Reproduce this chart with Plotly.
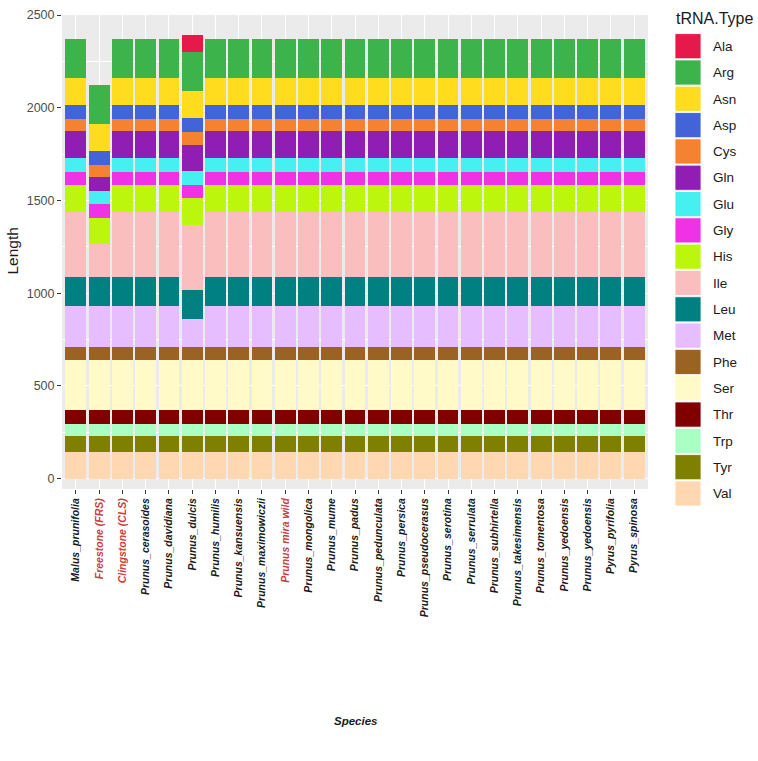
import plotly.graph_objects as go

# ---------------- data ----------------
species = [
    "Malus_prunifolia", "Freestone (FRS)", "Clingstone (CLS)", "Prunus_cerasoides",
    "Prunus_davidiana", "Prunus_dulcis", "Prunus_humilis", "Prunus_kansuensis",
    "Prunus_maximowiczii", "Prunus mira wild", "Prunus_mongolica", "Prunus_mume",
    "Prunus_padus", "Prunus_pedunculata", "Prunus_persica", "Prunus_pseudocerasus",
    "Prunus_serotina", "Prunus_serrulata", "Prunus_subhirtella", "Prunus_takesimensis",
    "Prunus_tomentosa", "Prunus_yedoensis", "Prunus_yedoensis", "Pyrus_pyrifolia",
    "Pyrus_spinosa",
]
highlighted = ["Freestone (FRS)", "Clingstone (CLS)", "Prunus mira wild"]

trna_types = ["Ala", "Arg", "Asn", "Asp", "Cys", "Gln", "Glu", "Gly", "His",
              "Ile", "Leu", "Met", "Phe", "Ser", "Thr", "Trp", "Tyr", "Val"]

ala = [0, 0, 0, 0, 0, 89, 0, 0, 0, 0, 0, 0, 0, 0, 0, 0, 0, 0, 0, 0, 0, 0, 0, 0, 0]
arg = [213, 213, 213, 213, 213, 213, 213, 213, 213, 213, 213, 213, 213, 213, 213, 213, 213, 213, 213, 213, 213, 213, 213, 213, 213]
asn = [145, 145, 145, 145, 145, 145, 145, 145, 145, 145, 145, 145, 145, 145, 145, 145, 145, 145, 145, 145, 145, 145, 145, 145, 145]
asp = [76, 76, 76, 76, 76, 76, 76, 76, 76, 76, 76, 76, 76, 76, 76, 76, 76, 76, 76, 76, 76, 76, 76, 76, 76]
cys = [67, 67, 67, 67, 67, 67, 67, 67, 67, 67, 67, 67, 67, 67, 67, 67, 67, 67, 67, 67, 67, 67, 67, 67, 67]
gln = [142, 71, 142, 142, 142, 142, 142, 142, 142, 142, 142, 142, 142, 142, 142, 142, 142, 142, 142, 142, 142, 142, 142, 142, 142]
glu = [74, 74, 74, 74, 74, 74, 74, 74, 74, 74, 74, 74, 74, 74, 74, 74, 74, 74, 74, 74, 74, 74, 74, 74, 74]
gly = [71, 71, 71, 71, 71, 71, 71, 71, 71, 71, 71, 71, 71, 71, 71, 71, 71, 71, 71, 71, 71, 71, 71, 71, 71]
his = [145, 145, 145, 145, 145, 145, 145, 145, 145, 145, 145, 145, 145, 145, 145, 145, 145, 145, 145, 145, 145, 145, 145, 145, 145]
ile = [351, 174, 351, 351, 351, 351, 351, 351, 351, 351, 351, 351, 351, 351, 351, 351, 351, 351, 351, 351, 351, 351, 351, 351, 351]
leu = [159, 159, 159, 159, 159, 159, 159, 159, 159, 159, 159, 159, 159, 159, 159, 159, 159, 159, 159, 159, 159, 159, 159, 159, 159]
met = [221, 221, 221, 221, 221, 150, 221, 221, 221, 221, 221, 221, 221, 221, 221, 221, 221, 221, 221, 221, 221, 221, 221, 221, 221]
phe = [71, 71, 71, 71, 71, 71, 71, 71, 71, 71, 71, 71, 71, 71, 71, 71, 71, 71, 71, 71, 71, 71, 71, 71, 71]
ser = [266, 266, 266, 266, 266, 266, 266, 266, 266, 266, 266, 266, 266, 266, 266, 266, 266, 266, 266, 266, 266, 266, 266, 266, 266]
thr = [76, 76, 76, 76, 76, 76, 76, 76, 76, 76, 76, 76, 76, 76, 76, 76, 76, 76, 76, 76, 76, 76, 76, 76, 76]
trp = [65, 65, 65, 65, 65, 65, 65, 65, 65, 65, 65, 65, 65, 65, 65, 65, 65, 65, 65, 65, 65, 65, 65, 65, 65]
tyr = [89, 89, 89, 89, 89, 89, 89, 89, 89, 89, 89, 89, 89, 89, 89, 89, 89, 89, 89, 89, 89, 89, 89, 89, 89]
val = [142, 142, 142, 142, 142, 142, 142, 142, 142, 142, 142, 142, 142, 142, 142, 142, 142, 142, 142, 142, 142, 142, 142, 142, 142]

y_ticks = [0, 500, 1000, 1500, 2000, 2500]

# ---------------- styling ----------------
colors = {
    "Ala": "#e6194b", "Arg": "#3cb44b", "Asn": "#ffdc1e", "Asp": "#4363d8",
    "Cys": "#f58231", "Gln": "#911eb4", "Glu": "#46f0f0", "Gly": "#f032e6",
    "His": "#bcf60c", "Ile": "#fabebe", "Leu": "#008080", "Met": "#e6beff",
    "Phe": "#9a6324", "Ser": "#fffac8", "Thr": "#800000", "Trp": "#aaffc3",
    "Tyr": "#808000", "Val": "#ffd8b1",
}
series = {"Ala": ala, "Arg": arg, "Asn": asn, "Asp": asp, "Cys": cys, "Gln": gln,
          "Glu": glu, "Gly": gly, "His": his, "Ile": ile, "Leu": leu, "Met": met,
          "Phe": phe, "Ser": ser, "Thr": thr, "Trp": trp, "Tyr": tyr, "Val": val}

FONT = "Liberation Sans, Arial, Helvetica, sans-serif"
W, H = 758, 761
PL, PR, PT, PB = 62, 648, 8, 489


def pxx(x):
    return (x - PL) / (PR - PL)


def pxy(y):
    return (PB - y) / (PB - PT)


x_pos = list(range(1, len(species) + 1))
tick_text = [
    f"<span style='color:#cc3d3d'>{s}</span>" if s in highlighted else s
    for s in species
]

fig = go.Figure()
# bottom of stack first (Val) up to Ala on top
for t in reversed(trna_types):
    fig.add_trace(go.Bar(
        x=x_pos, y=series[t], name=t, width=0.9,
        marker=dict(color=colors[t], line=dict(width=0)),
        showlegend=False,
    ))

# manual ggplot-like legend
shapes = []
annotations = []
annotations.append(dict(
    x=pxx(674), y=pxy(12), xref="paper", yref="paper", text="tRNA.Type",
    showarrow=False, xanchor="left", yanchor="middle",
    font=dict(family=FONT, size=16, color="#1a1a1a"),
))
step = 26.7
for i, t in enumerate(trna_types):
    top = 26.9 + step * i
    shapes.append(dict(
        type="rect", xref="paper", yref="paper",
        x0=pxx(675), x1=pxx(701), y0=pxy(top), y1=pxy(top + 25.5),
        fillcolor=colors[t], line=dict(color="white", width=0.8), layer="above",
    ))
    annotations.append(dict(
        x=pxx(711), y=pxy(top + 13), xref="paper", yref="paper", text=t,
        showarrow=False, xanchor="left", yanchor="middle",
        font=dict(family=FONT, size=13.5, color="#1a1a1a"),
    ))

annotations.append(dict(
    x=pxx(13), y=pxy(248), xref="paper", yref="paper", text="Length",
    showarrow=False, textangle=-90, xanchor="center", yanchor="middle",
    font=dict(family=FONT, size=15.5, color="#1a1a1a"),
))
annotations.append(dict(
    x=0.5, y=pxy(724), xref="paper", yref="paper", text="<b><i>Species</i></b>",
    showarrow=False, xanchor="center", yanchor="middle",
    font=dict(family=FONT, size=11.5, color="#1a1a1a"),
))

fig.update_layout(
    width=W, height=H,
    margin=dict(l=PL, r=W - PR, t=PT, b=H - PB, pad=0),
    barmode="stack",
    paper_bgcolor="white",
    plot_bgcolor="#ebebeb",
    font=dict(family=FONT),
    showlegend=False,
    shapes=shapes,
    annotations=annotations,
    xaxis=dict(
        range=[0.4, len(species) + 0.6],
        tickmode="array", tickvals=x_pos, ticktext=tick_text,
        tickangle=-90,
        tickfont=dict(family=FONT, size=10.5, color="#1a1a1a", weight="bold", style="italic"),
        ticks="outside", ticklen=4, tickwidth=1.1, tickcolor="#333333",
        showgrid=True, gridcolor="white", gridwidth=1.1,
        zeroline=False, showline=False, fixedrange=True,
    ),
    yaxis=dict(
        range=[-56, 2500],
        tickmode="array", tickvals=y_ticks,
        tickfont=dict(family=FONT, size=12.5, color="#4d4d4d"),
        ticks="outside", ticklen=4, tickwidth=1.1, tickcolor="#333333",
        showgrid=True, gridcolor="white", gridwidth=1.1,
        minor=dict(tickvals=[250, 750, 1250, 1750, 2250], showgrid=True,
                   gridcolor="white", gridwidth=0.55, ticks=""),
        zeroline=False, showline=False, fixedrange=True,
    ),
)

fig.write_html("out.html")
